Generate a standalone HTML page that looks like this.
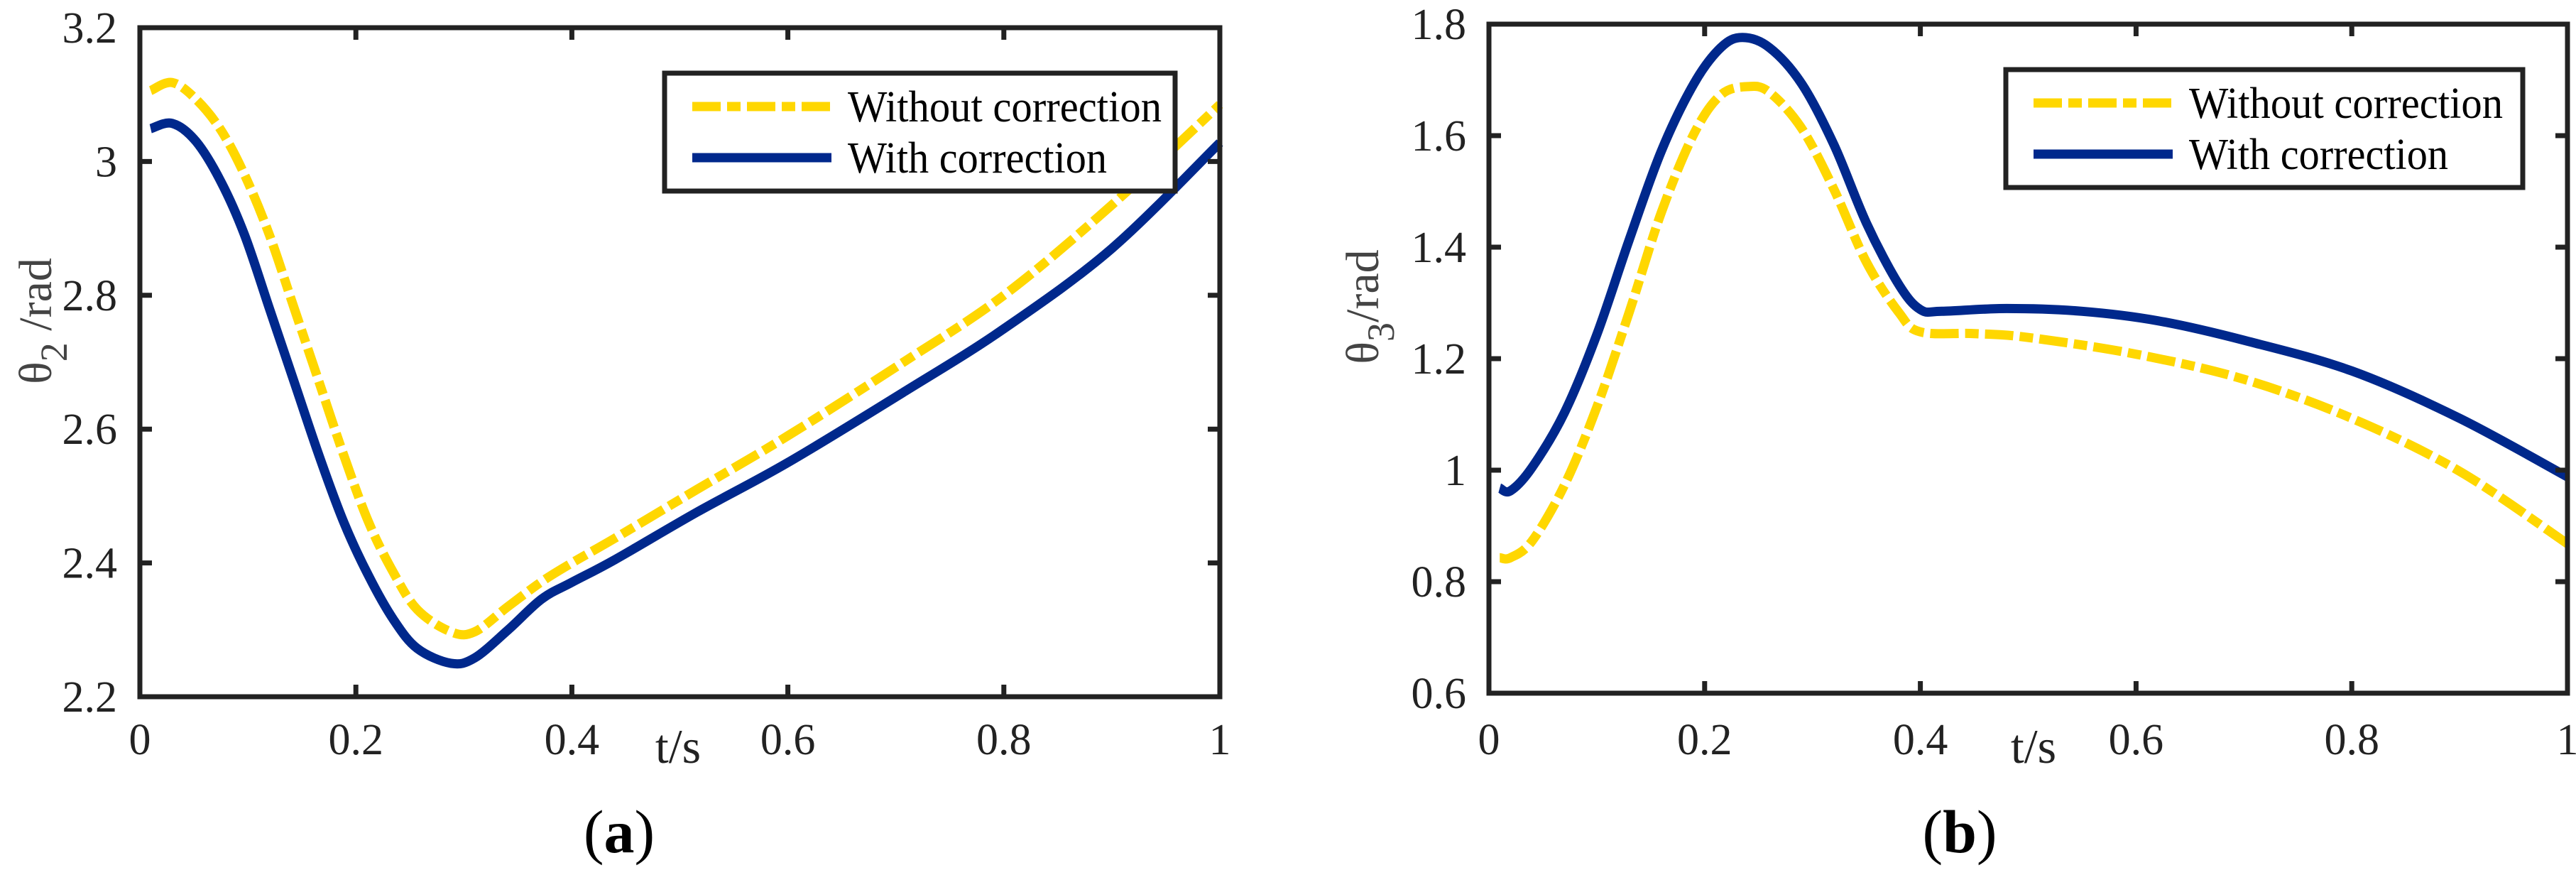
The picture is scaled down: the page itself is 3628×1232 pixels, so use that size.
<!DOCTYPE html>
<html><head><meta charset="utf-8"><style>
html,body{margin:0;padding:0;background:#fff;}
svg{display:block;}
svg text{font-family:"Liberation Serif","Times New Roman","DejaVu Serif",serif;}
</style></head><body>
<svg id="fig" width="3628" height="1232" viewBox="0 0 3628 1232" xmlns="http://www.w3.org/2000/svg" font-family="Liberation Serif, Times New Roman, serif">
<rect width="3628" height="1232" fill="#fff"/>
<g id="pa"></g>
<g id="pb"></g>
</svg>
<script>
const xTicks = [0, 0.2, 0.4, 0.6, 0.8, 1];
const xTickLabels = ["0", "0.2", "0.4", "0.6", "0.8", "1"];
const aYTicks = [2.2, 2.4, 2.6, 2.8, 3, 3.2];
const aYTickLabels = ["2.2", "2.4", "2.6", "2.8", "3", "3.2"];
const bYTicks = [0.6, 0.8, 1, 1.2, 1.4, 1.6, 1.8];
const bYTickLabels = ["0.6", "0.8", "1", "1.2", "1.4", "1.6", "1.8"];

const aBlueT = [0.01,0.03,0.052,0.075,0.097,0.12,0.143,0.166,0.189,0.212,0.235,0.257,0.288,0.31,0.341,0.372,0.4,0.44,0.516,0.6,0.707,0.8,0.9,1];
const aBlueV = [3.049,3.057,3.03,2.97,2.89,2.78,2.67,2.56,2.46,2.38,2.315,2.272,2.25,2.258,2.30,2.346,2.371,2.405,2.476,2.55,2.655,2.75,2.87,3.028];
const aYelT = [0.01,0.03,0.052,0.075,0.097,0.12,0.143,0.166,0.189,0.212,0.235,0.257,0.288,0.31,0.341,0.372,0.4,0.44,0.516,0.6,0.707,0.8,0.9,1];
const aYelV = [3.106,3.118,3.093,3.047,2.98,2.89,2.78,2.67,2.56,2.46,2.385,2.33,2.297,2.297,2.335,2.372,2.40,2.437,2.51,2.59,2.70,2.80,2.935,3.085];

const bBlueT = [0.01,0.02,0.04,0.07,0.1,0.13,0.16,0.19,0.215,0.235,0.26,0.29,0.32,0.35,0.38,0.4,0.42,0.48,0.55,0.62,0.7,0.8,0.9,1];
const bBlueV = [0.968,0.963,1.005,1.103,1.243,1.413,1.573,1.693,1.758,1.776,1.758,1.693,1.583,1.443,1.333,1.288,1.285,1.29,1.285,1.268,1.233,1.178,1.093,0.988];
const bYelT = [0.01,0.02,0.04,0.07,0.1,0.13,0.16,0.19,0.215,0.24,0.26,0.29,0.32,0.35,0.38,0.4,0.45,0.5,0.6,0.7,0.8,0.9,1];
const bYelV = [0.843,0.843,0.873,0.973,1.113,1.283,1.463,1.603,1.673,1.688,1.678,1.613,1.503,1.373,1.283,1.248,1.245,1.238,1.208,1.163,1.093,0.998,0.868];

const legendLabels = ["Without correction", "With correction"];
const NS = "http://www.w3.org/2000/svg";
const BLUE = "#00288c", YEL = "#ffd700", AX = "#222";
const FONT = "Liberation Serif, Times New Roman, DejaVu Serif, serif";

function mk(parent, tag, attrs, txt){
  const e = document.createElementNS(NS, tag);
  for (const k in attrs) e.setAttribute(k, attrs[k]);
  if (tag === "text") e.setAttribute("font-family", FONT);
  if (txt !== undefined) e.textContent = txt;
  parent.appendChild(e);
  return e;
}
function smoothPath(pts){
  let d = "M" + pts[0][0].toFixed(1) + "," + pts[0][1].toFixed(1);
  for (let i = 0; i < pts.length - 1; i++){
    const p0 = pts[Math.max(0,i-1)], p1 = pts[i], p2 = pts[i+1], p3 = pts[Math.min(pts.length-1,i+2)];
    const c1x = p1[0] + (p2[0]-p0[0])/6, c1y = p1[1] + (p2[1]-p0[1])/6;
    const c2x = p2[0] - (p3[0]-p1[0])/6, c2y = p2[1] - (p3[1]-p1[1])/6;
    d += " C" + c1x.toFixed(1)+","+c1y.toFixed(1)+" "+c2x.toFixed(1)+","+c2y.toFixed(1)+" "+p2[0].toFixed(1)+","+p2[1].toFixed(1);
  }
  return d;
}

function drawChart(g, cfg){
  const {L,R,T,B,ymin,ymax,yTicks,yLabels,series,legend,ylabel,sub,tsX,cap,capX} = cfg;
  const xs = t => L + t*(R-L);
  const ys = v => B - (v-ymin)/(ymax-ymin)*(B-T);
  series.forEach(s => {
    const pts = s.t.map((t,i)=>[xs(t), ys(s.v[i])]);
    const p = mk(g, "path", {d: smoothPath(pts), fill:"none", stroke:s.color, "stroke-width":13, "stroke-dasharray": s.dash || "none", "stroke-linejoin":"round"});
    
    
  });
  const box = mk(g, "rect", {x:L, y:T, width:R-L, height:B-T, fill:"none", stroke:AX, "stroke-width":7});
  
  
  xTicks.forEach((t,i) => {
    const x = xs(t);
    if (i>0 && i<xTicks.length-1){
      mk(g,"line",{x1:x,y1:B,x2:x,y2:B-17,stroke:AX,"stroke-width":7});
      mk(g,"line",{x1:x,y1:T,x2:x,y2:T+17,stroke:AX,"stroke-width":7});
    }
    const tx = mk(g,"text",{x:x,y:1062,"font-size":62,"text-anchor":"middle",fill:"#222"}, xTickLabels[i]);
    
    
  });
  yTicks.forEach((v,i) => {
    const y = ys(v);
    if (i>0 && i<yTicks.length-1){
      mk(g,"line",{x1:L,y1:y,x2:L+17,y2:y,stroke:AX,"stroke-width":7});
      mk(g,"line",{x1:R,y1:y,x2:R-17,y2:y,stroke:AX,"stroke-width":7});
    }
    const ty = mk(g,"text",{x:L-32,y:y+21,"font-size":62,"text-anchor":"end",fill:"#222"}, yLabels[i]);
    
    
  });
  const lg = mk(g,"g",{});
  
  
  mk(lg,"rect",{x:legend.x,y:legend.y,width:legend.w,height:legend.h,fill:"#fff",stroke:AX,"stroke-width":7});
  series.forEach((s,i) => {
    const ry = legend.y + 47 + i*72;
    const ln = mk(lg,"line",{x1:legend.x+39,y1:ry,x2:legend.x+235,y2:ry,stroke:s.color,"stroke-width":13,"stroke-dasharray":s.dash||"none"});
    
    
    const lt = mk(lg,"text",{x:legend.x+258,y:ry+21,"font-size":62,fill:"#000",textLength: i==0?442:365,lengthAdjust:"spacingAndGlyphs"}, legendLabels[i]);
    
    
  });
  const yl = mk(g,"text",{transform:"translate("+ylabel.x+","+ylabel.y+") rotate(-90)","font-size":66,"text-anchor":"middle",fill:"#444"});
  
  
  mk(yl,"tspan",{},"θ");
  mk(yl,"tspan",{dy:22,"font-size":54},sub);
  mk(yl,"tspan",{dy:-22},ylabel.gap + "/rad");
  const xl = mk(g,"text",{x:tsX,y:1074,"font-size":68,"text-anchor":"middle",fill:"#222"},"t/s");
  
  
  const c = mk(g,"text",{x:capX,y:1200,"font-size":86,"text-anchor":"middle",fill:"#000"});
  
  
  mk(c,"tspan",{},"(");
  mk(c,"tspan",{"font-weight":"bold"},cap);
  mk(c,"tspan",{},")");
}

drawChart(document.getElementById("pa"), {
  L:197, R:1718, T:39, B:981, ymin:2.2, ymax:3.2, yTicks:aYTicks, yLabels:aYTickLabels,
  series:[{name:"line-without-correction",t:aYelT,v:aYelV,color:YEL,dash:"40 9 19 9"},
          {name:"line-with-correction",t:aBlueT,v:aBlueV,color:BLUE}],
  legend:{x:936,y:103,w:719,h:166}, ylabel:{x:72,y:452,gap:"  "}, sub:"2", tsX:955, cap:"a", capX:872
});
drawChart(document.getElementById("pb"), {
  L:2097, R:3616, T:34, B:976, ymin:0.6, ymax:1.8, yTicks:bYTicks, yLabels:bYTickLabels,
  series:[{name:"line-without-correction",t:bYelT,v:bYelV,color:YEL,dash:"40 9 19 9"},
          {name:"line-with-correction",t:bBlueT,v:bBlueV,color:BLUE}],
  legend:{x:2825,y:98,w:728,h:166}, ylabel:{x:1941,y:432,gap:""}, sub:"3", tsX:2864, cap:"b", capX:2760
});
</script>
</body></html>
